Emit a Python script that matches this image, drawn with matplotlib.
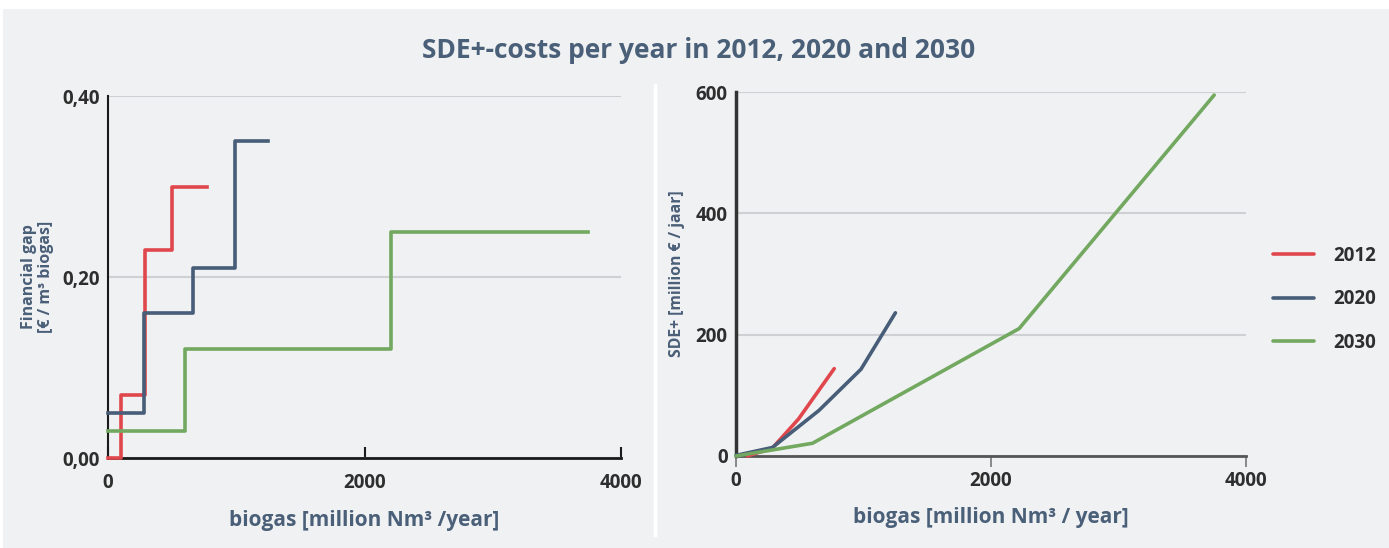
import matplotlib.pyplot as plt
from matplotlib.patches import Rectangle
from matplotlib.lines import Line2D

# data
years = ['2012', '2020', '2030']
colors = ['#e0474c', '#475d78', '#72a860']

# left: financial gap steps (biogas volume where each step starts, gap value)
gap_x_2012 = [0, 100, 290, 500, 770]
gap_y_2012 = [0.00, 0.07, 0.23, 0.30, 0.30]
gap_x_2020 = [0, 280, 660, 990, 1250]
gap_y_2020 = [0.05, 0.16, 0.21, 0.35, 0.35]
gap_x_2030 = [0, 600, 2210, 3740]
gap_y_2030 = [0.03, 0.12, 0.25, 0.25]

# right: cumulative SDE+ costs
sde_x_2012 = [90, 285, 490, 770]
sde_y_2012 = [0, 13, 61, 144]
sde_x_2020 = [0, 285, 650, 980, 1250]
sde_y_2020 = [1, 14, 75, 143, 236]
sde_x_2030 = [0, 600, 2220, 3750]
sde_y_2030 = [0, 21, 210, 595]

x_ticks = [0, 2000, 4000]
gap_ticks = [0.0, 0.2, 0.4]
gap_labels = ['0,00', '0,20', '0,40']
sde_ticks = [0, 200, 400, 600]

plt.rcParams['font.family'] = ['Open Sans', 'DejaVu Sans']
bg = '#f0f1f3'
label_col = '#4a5f78'
tick_col = '#2e2e2e'
grid_col = '#cfd0d3'

fig = plt.figure(figsize=(13.89, 5.48), dpi=100)
fig.patch.set_facecolor('white')
fig.patches.append(Rectangle((3 / 1389, 0), 1, 1 - 9 / 548, transform=fig.transFigure,
                             facecolor=bg, edgecolor='none', zorder=-10))
fig.lines.append(Line2D([655 / 1389, 655 / 1389], [1 - 85 / 548, 1 - 535 / 548],
                        transform=fig.transFigure, color='white', lw=2.5))

fig.text(0.503, 1 - 51 / 548, 'SDE+-costs per year in 2012, 2020 and 2030',
         ha='center', va='center', fontsize=19, fontweight='bold', color=label_col)

ax1 = fig.add_axes([0.0778, 0.1642, 0.3693, 0.6606])
ax2 = fig.add_axes([0.5299, 0.1679, 0.3672, 0.6642])

for ax in (ax1, ax2):
    ax.set_facecolor(bg)
    for s in ('top', 'right'):
        ax.spines[s].set_visible(False)
    ax.set_xlim(0, 4000)
    ax.set_xticks(x_ticks)
    ax.yaxis.grid(True, color=grid_col, lw=1.5)
    ax.set_axisbelow(True)
    ax.tick_params(axis='y', length=0, pad=6, labelsize=13.5, labelcolor=tick_col)

# left chart
for gx, gy, c in zip([gap_x_2012, gap_x_2020, gap_x_2030],
                     [gap_y_2012, gap_y_2020, gap_y_2030], colors):
    ax1.step(gx, gy, where='post', color=c, lw=2.6, clip_on=False, zorder=3)
ax1.set_ylim(0, 0.40)
ax1.set_yticks(gap_ticks)
ax1.set_yticklabels(gap_labels, fontweight='bold')
ax1.set_xticklabels([str(t) for t in x_ticks], fontweight='bold')
ax1.spines['left'].set_color('#1a1a1a')
ax1.spines['left'].set_linewidth(1.5)
ax1.spines['bottom'].set_color('#1a1a1a')
ax1.spines['bottom'].set_linewidth(2)
ax1.tick_params(axis='x', direction='in', length=8, width=1.5, color='#1a1a1a',
                labelsize=13.5, labelcolor=tick_col, pad=11)
ax1.set_xlabel('biogas [million Nm³ /year]', fontsize=15, fontweight='bold',
               color=label_col, labelpad=12)
ax1.set_ylabel('Financial gap\n[€ / m³ biogas]', fontsize=11.5, fontweight='bold',
               color=label_col, labelpad=6, linespacing=1.1)

# right chart
for sx, sy, c, yr in zip([sde_x_2012, sde_x_2020, sde_x_2030],
                         [sde_y_2012, sde_y_2020, sde_y_2030], colors, years):
    ax2.plot(sx, sy, color=c, lw=2.6, clip_on=False, zorder=3, label=yr,
             solid_capstyle='round')
ax2.set_ylim(0, 600)
ax2.set_yticks(sde_ticks)
ax2.set_yticklabels([str(t) for t in sde_ticks], fontweight='bold')
ax2.set_xticklabels([str(t) for t in x_ticks], fontweight='bold')
ax2.spines['left'].set_color('#333333')
ax2.spines['left'].set_linewidth(2.5)
ax2.spines['bottom'].set_color('#555555')
ax2.spines['bottom'].set_linewidth(2)
ax2.tick_params(axis='x', direction='out', length=8, width=1.2, color='#777777',
                labelsize=13.5, labelcolor=tick_col, pad=3)
ax2.set_xlabel('biogas [million Nm³ / year]', fontsize=15, fontweight='bold',
               color=label_col, labelpad=11)
ax2.set_ylabel('SDE+ [million € / jaar]', fontsize=11.3, fontweight='bold',
               color=label_col, labelpad=8)

leg = ax2.legend(loc='center left', bbox_to_anchor=(1.02, 0.43), frameon=False,
                 handlelength=2.2, handletextpad=1.0, labelspacing=1.25,
                 prop={'size': 13.5, 'weight': 'bold'})
for t in leg.get_texts():
    t.set_color(tick_col)

fig.savefig('out.png', dpi=100, facecolor=fig.get_facecolor())
